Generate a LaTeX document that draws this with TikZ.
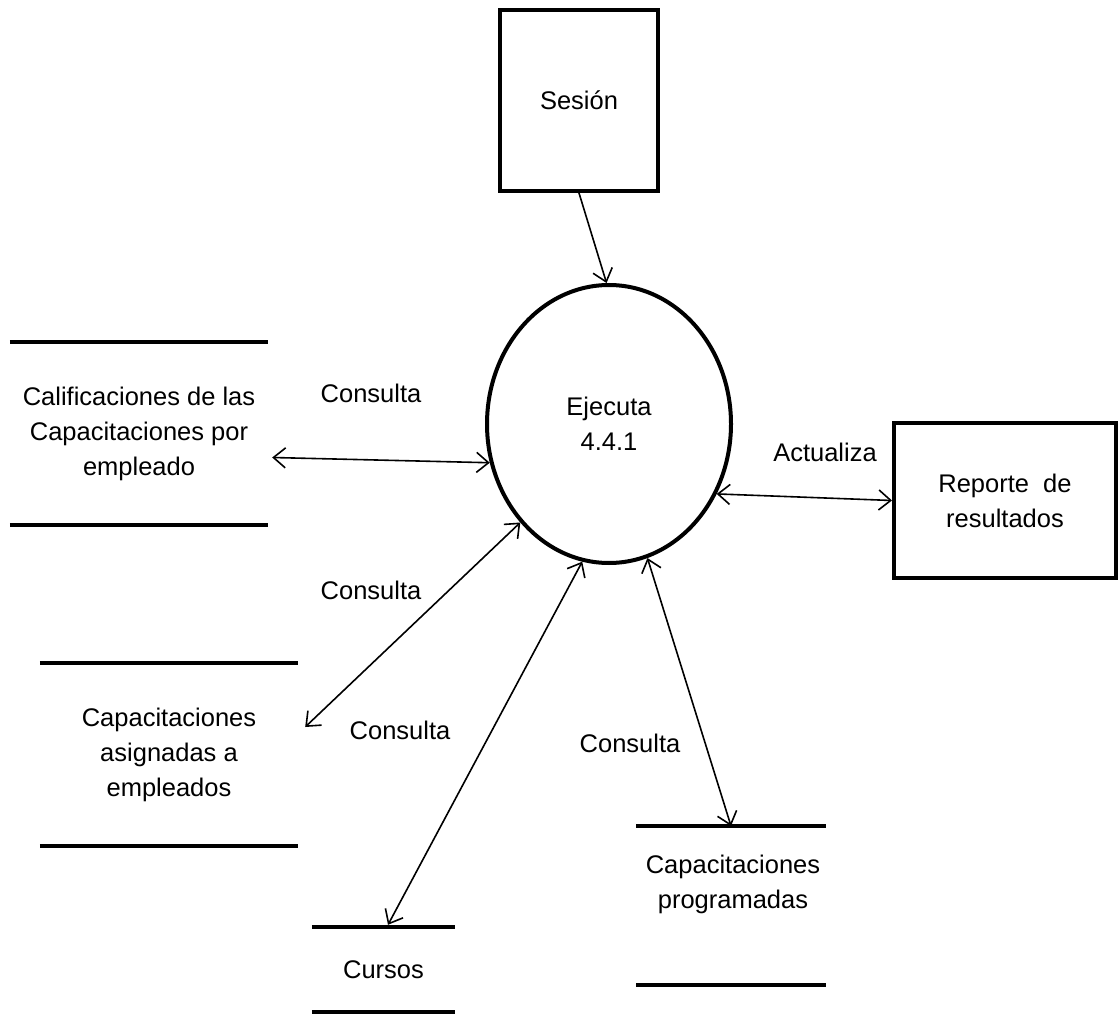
\documentclass[tikz,border=0pt]{standalone}
\usepackage{fontspec}
\setmainfont{Liberation Sans}
\usetikzlibrary{arrows.meta,shapes.geometric,calc}
\begin{document}
\begin{tikzpicture}[x=1pt,y=-1pt,
  every node/.style={font=\fontsize{25.5}{35}\selectfont, align=center, inner sep=0pt},
  boxnode/.style={draw, line width=4pt, rectangle},
  proc/.style={draw, line width=4pt, ellipse},
  store/.style={rectangle},
  storeline/.style={line width=4pt},
  flow/.style={line width=1.6pt, {Straight Barb[length=12pt,width=20pt]}-{Straight Barb[length=12pt,width=20pt]}},
  flowone/.style={line width=1.6pt, -{Straight Barb[length=12pt,width=20pt]}},
  lbl/.style={}
]
\useasboundingbox (0,0) rectangle (1119,1024);

% external entities
\node[boxnode, minimum width=158pt, minimum height=181pt] (ses) at (579,100.5) {Sesión};
\node[boxnode, minimum width=222pt, minimum height=155pt] (rep) at (1005,500.5) {Reporte\ \ de\\resultados};

% process
\node[proc, minimum width=244pt, minimum height=278pt] (p) at (609,424) {Ejecuta\\4.4.1};

% data stores
\node[store, minimum width=258pt, minimum height=183pt] (st1) at (139,433.5) {Calificaciones de las\\Capacitaciones por\\empleado};
\draw[storeline] (st1.north west) -- (st1.north east);
\draw[storeline] (st1.south west) -- (st1.south east);

\node[store, minimum width=258pt, minimum height=183pt] (st2) at (169,754.5) {Capacitaciones\\asignadas a\\empleados};
\draw[storeline] (st2.north west) -- (st2.north east);
\draw[storeline] (st2.south west) -- (st2.south east);

\node[store, minimum width=143pt, minimum height=85pt] (cur) at (383.5,969.5) {Cursos};
\draw[storeline] (cur.north west) -- (cur.north east);
\draw[storeline] (cur.south west) -- (cur.south east);

\node[store] (prog) at (733,884) {Capacitaciones\\programadas};
\coordinate (progtop) at ($(prog.center)+(-2,-58)$);
\draw[storeline] ($(prog.center)+(-97,-58)$) -- ($(prog.center)+(93,-58)$);
\draw[storeline] ($(prog.center)+(-97,101)$) -- ($(prog.center)+(93,101)$);

% flows
\draw[flowone] (ses.south) -- (p.91);
\draw[flow] ($(st1.east)+(4,24)$) -- (p.198.6);
\draw[flow] (p.327.6) -- (rep.west);
\draw[flow] ($(st2.east)+(7,-27.5)$) -- (p.228.4);
\draw[flow] ($(cur.north)+(4.5,-2)$) -- (p.259.7);
\draw[flow] (p.286.4) -- (progtop);

% labels
\node[lbl] (l1) at (371,393) {Consulta};
\node[lbl] (l2) at (371,590) {Consulta};
\node[lbl] (l3) at (400,730) {Consulta};
\node[lbl] (l4) at (630,743) {Consulta};
\node[lbl] (l5) at (825,452) {Actualiza};
\end{tikzpicture}
\end{document}
